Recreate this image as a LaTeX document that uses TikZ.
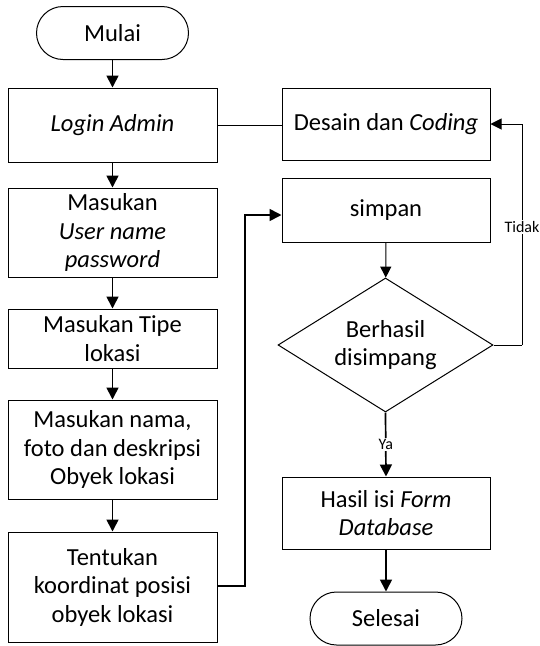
\documentclass[tikz,border=0pt]{standalone}
\usepackage{fontspec}
\setmainfont{Carlito}
\usetikzlibrary{arrows.meta,shapes.geometric}

\tikzset{
  base/.style={draw=black, line width=1pt, align=center, inner sep=0pt,
    font=\fontsize{24.5}{28.5}\selectfont},
  procbox/.style={base, rectangle, minimum width=209pt},
  termbox/.style={base, rectangle, rounded corners=26.5pt, minimum width=152pt, minimum height=53pt},
  decbox/.style={base, diamond, shape aspect=1.6, minimum width=215pt, minimum height=134pt},
  flow/.style={line width=1.7pt, -{Triangle[length=12pt,width=12pt]}},
  thinflow/.style={line width=1pt, -{Triangle[length=11pt,width=11pt]}},
  thinline/.style={line width=1pt},
  lbl/.style={fill=white, inner sep=1pt, font=\fontsize{16}{18}\selectfont}
}

\begin{document}
\begin{tikzpicture}[x=1pt,y=-1pt]
  \useasboundingbox (0,0) rectangle (540,646);

  % left column
  \node[termbox] (mulai) at (112.5,33) {Mulai};
  \node[procbox, minimum height=74pt] (login) at (112.5,125) {\textit{Login Admin}};
  \node[procbox, minimum height=89pt] (user) at (112.5,232.5) {Masukan\\\textit{User name}\\\textit{password}};
  \node[procbox, minimum height=59pt] (tipe) at (112.5,338.5) {Masukan Tipe\\lokasi};
  \node[procbox, minimum height=99pt] (nama) at (112.5,449.5) {Masukan nama,\\foto dan deskripsi\\Obyek lokasi};
  \node[procbox, minimum height=110pt] (tentukan) at (112.5,587) {Tentukan\\koordinat posisi\\obyek lokasi};

  % right column
  \node[procbox, minimum width=208pt, minimum height=72pt] (desain) at (386,124) {Desain dan \textit{Coding}};
  \node[procbox, minimum width=208pt, minimum height=64pt] (simpan) at (386,210) {simpan};
  \node[decbox] (cek) at (385.5,345) {Berhasil\\disimpang};
  \node[procbox, minimum width=208pt, minimum height=72pt] (hasil) at (386,513) {Hasil isi \textit{Form}\\\textit{Database}};
  \node[termbox] (selesai) at (386,618.5) {Selesai};

  \coordinate (tj) at (245,586);
  \coordinate (tk) at (522,345);

  % connectors
  \draw[flow] (mulai) -- (login);
  \draw[flow] (login) -- (user);
  \draw[flow] (user) -- (tipe);
  \draw[flow] (tipe) -- (nama);
  \draw[flow] (nama) -- (tentukan);
  \draw[thinline] (login.east) -- (login.east -| desain.west);
  \draw[flow] (tentukan.east |- tj) -- (tj) |- ([yshift=-5pt]simpan.west);
  \draw[thinflow] (simpan) -- (cek);
  \draw[thinline] (cek.east) -- (tk);
  \draw[thinflow] (tk) |- node[lbl, pos=0.267] {Tidak} (desain.east);
  \draw[flow] (cek.south) -- node[lbl, pos=0.5] {Ya} (hasil.north);
  \draw[flow] (hasil) -- (selesai);
\end{tikzpicture}
\end{document}
